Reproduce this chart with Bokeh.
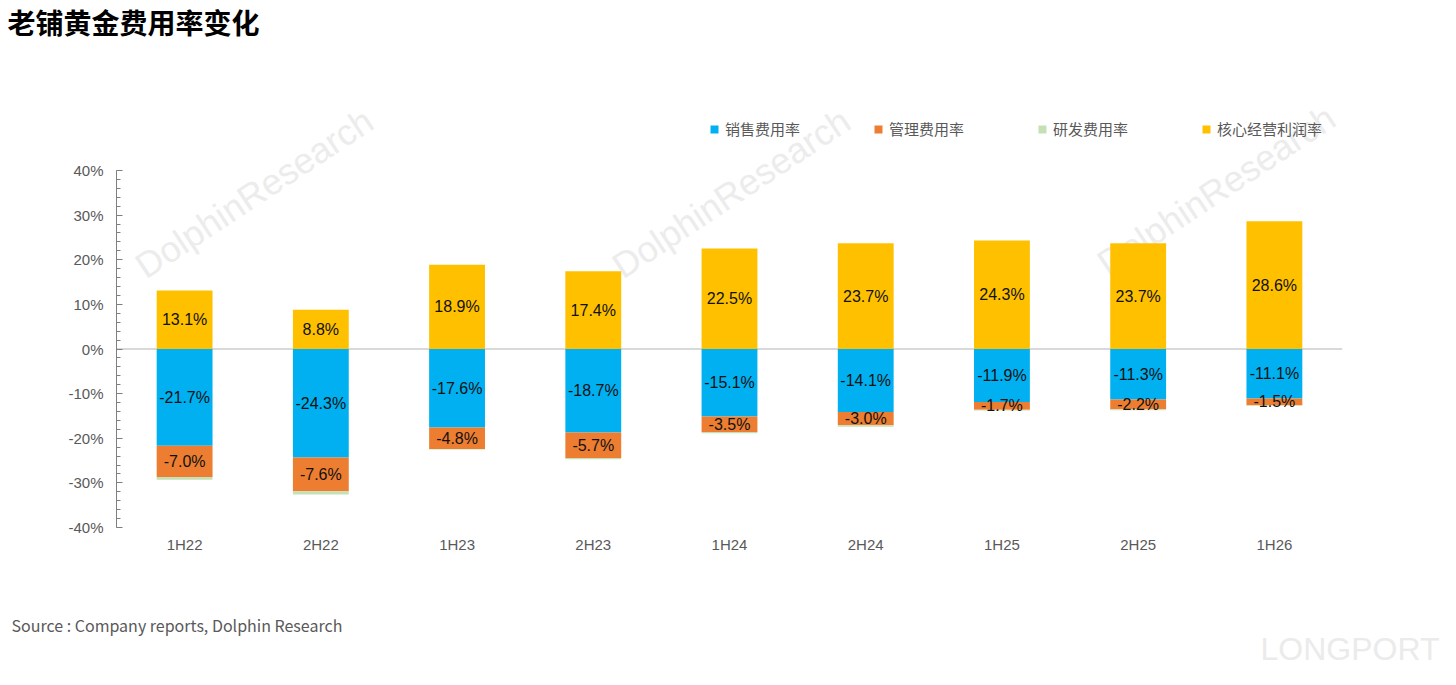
from bokeh.plotting import figure
from bokeh.layouts import column
from bokeh.models import (ColumnDataSource, FactorRange, Range1d, FixedTicker,
                          PrintfTickFormatter, Span, Label, Legend, LegendItem)
from bokeh.core.properties import value
from bokeh.embed import file_html
from bokeh.resources import INLINE

categories = ["1H22", "2H22", "1H23", "2H23", "1H24", "2H24", "1H25", "2H25", "1H26"]
sales_ratio = [-21.7, -24.3, -17.6, -18.7, -15.1, -14.1, -11.9, -11.3, -11.1]
admin_ratio = [-7.0, -7.6, -4.8, -5.7, -3.5, -3.0, -1.7, -2.2, -1.5]
rd_ratio = [-0.6, -0.7, -0.1, -0.3, -0.3, -0.3, -0.2, -0.2, -0.1]
core_margin = [13.1, 8.8, 18.9, 17.4, 22.5, 23.7, 24.3, 23.7, 28.6]
series_names = ["销售费用率", "管理费用率", "研发费用率", "核心经营利润率"]
y_ticks = [-40, -30, -20, -10, 0, 10, 20, 30, 40]
title_text = "老铺黄金费用率变化"
source_text = "Source : Company reports, Dolphin Research"
brand_text = "LONGPORT"

COL_SALES = "#00B0F0"
COL_ADMIN = "#ED7D31"
COL_RD = "#C5E0B4"
COL_CORE = "#FFC000"
GREY = "#595959"
FONT = "Noto Sans CJK SC"
LAT = "Liberation Sans"

sales_bot = list(sales_ratio)
admin_bot = [s + a for s, a in zip(sales_ratio, admin_ratio)]
rd_bot = [s + a + r for s, a, r in zip(sales_ratio, admin_ratio, rd_ratio)]

src = ColumnDataSource(dict(
    cat=categories,
    sales_top=[0.0] * len(categories), sales_bot=sales_bot,
    admin_top=sales_bot, admin_bot=admin_bot,
    rd_top=admin_bot, rd_bot=rd_bot,
    core_top=list(core_margin), core_bot=[0.0] * len(categories),
    sales_mid=[s / 2 for s in sales_ratio],
    admin_mid=[s + a / 2 for s, a in zip(sales_ratio, admin_ratio)],
    core_mid=[c / 2 for c in core_margin],
    sales_lbl=[f"{v:.1f}%" for v in sales_ratio],
    admin_lbl=[f"{v:.1f}%" for v in admin_ratio],
    core_lbl=[f"{v:.1f}%" for v in core_margin],
))

# layout (pixels inside the main figure)
W = 1440
H_MAIN, H_FOOT = 600, 69
TOP, LEFT, FRAME_W = 36, 116, 1226
RIGHT = W - LEFT - FRAME_W
AX_TOP, AX_BOT = 166, 523        # pixel rows of the 40% and -40% lines
FRAME_H = AX_BOT - TOP
BOTTOM = H_MAIN - AX_BOT
px_per_unit = (AX_BOT - AX_TOP) / 80.0
y_max = 40 + (AX_TOP - TOP) / px_per_unit

p = figure(frame_width=FRAME_W, frame_height=FRAME_H,
           x_range=FactorRange(factors=categories, range_padding=0),
           y_range=Range1d(-40, y_max), output_backend="svg", toolbar_location=None,
           min_border_left=LEFT, min_border_right=RIGHT, min_border_top=TOP, min_border_bottom=BOTTOM)
p.outline_line_color = None
p.xgrid.visible = False
p.ygrid.visible = False
p.background_fill_color = "white"
p.border_fill_color = "white"

p.title.text = title_text
p.title.align = "left"
p.title.offset = -109
p.title.standoff = -2
p.title.text_font = FONT
p.title.text_font_size = "28px"
p.title.text_font_style = "bold"
p.title.text_color = "#000000"

zero = Span(location=0, dimension="width", line_color="#d9d9d9", line_width=2, level="underlay")
p.add_layout(zero)

bw = 0.41
r_sales = p.vbar(x="cat", top="sales_top", bottom="sales_bot", width=bw, source=src,
                 fill_color=COL_SALES, line_color=None)
r_admin = p.vbar(x="cat", top="admin_top", bottom="admin_bot", width=bw, source=src,
                 fill_color=COL_ADMIN, line_color=None)
r_rd = p.vbar(x="cat", top="rd_top", bottom="rd_bot", width=bw, source=src,
              fill_color=COL_RD, line_color=None)
r_core = p.vbar(x="cat", top="core_top", bottom="core_bot", width=bw, source=src,
                fill_color=COL_CORE, line_color=None)

for ycol, tcol in [("sales_mid", "sales_lbl"), ("admin_mid", "admin_lbl"), ("core_mid", "core_lbl")]:
    p.text(x="cat", y=ycol, text=tcol, source=src, text_align="center", text_baseline="middle",
           text_font=value(LAT), text_font_size="16px", text_color="#111111")

# axes
yax = p.yaxis[0]
yax.bounds = (-40, 40)
yax.ticker = FixedTicker(ticks=y_ticks, minor_ticks=list(range(-40, 41, 2)))
yax.formatter = PrintfTickFormatter(format="%d%%")
yax.axis_line_color = "#7f7f7f"
yax.major_tick_line_color = "#7f7f7f"
yax.minor_tick_line_color = "#7f7f7f"
yax.major_tick_in = 6
yax.major_tick_out = 0
yax.minor_tick_in = 4
yax.minor_tick_out = 0
yax.major_label_standoff = 13
yax.major_label_text_font = LAT
yax.major_label_text_font_size = "15px"
yax.major_label_text_color = GREY

xax = p.xaxis[0]
xax.axis_line_color = None
xax.major_tick_line_color = None
xax.minor_tick_line_color = None
xax.major_tick_out = 0
xax.major_label_standoff = 8
xax.major_label_text_font = LAT
xax.major_label_text_font_size = "15px"
xax.major_label_text_color = GREY

# legend inside the (extended) frame
legend = Legend(items=[LegendItem(label=series_names[i], renderers=[r])
                       for i, r in enumerate([r_sales, r_admin, r_rd, r_core])],
                location=(593, 388), orientation="horizontal",
                glyph_width=10, glyph_height=10, label_standoff=6, spacing=73,
                padding=0, margin=0, background_fill_alpha=0, border_line_color=None,
                label_text_font=FONT, label_text_font_size="15px", label_text_color=GREY,
                label_height=20)
p.add_layout(legend)

# faint watermarks behind the bars
for wx, wy in [(34, 241), (511, 241), (996, 244)]:
    p.add_layout(Label(x=wx, y=wy, x_units="screen", y_units="screen", text="DolphinResearch",
                       angle=0.585, text_font=LAT, text_font_size="36px",
                       text_color="#ececec", level="underlay"))

# footer strip: source line and brand
f = figure(width=W, height=H_FOOT, x_range=Range1d(0, W), y_range=Range1d(0, H_FOOT),
           x_axis_location=None, y_axis_location=None, output_backend="svg",
           toolbar_location=None, min_border=0)
f.outline_line_color = None
f.xgrid.visible = False
f.ygrid.visible = False
f.border_fill_color = "white"
f.background_fill_color = "white"
f.add_layout(Label(x=11, y=H_FOOT - 20, x_units="screen", y_units="screen", text=source_text,
                   text_font=FONT, text_font_size="16px", text_color=GREY,
                   text_baseline="middle", text_align="left"))
f.add_layout(Label(x=W - 1, y=H_FOOT - 44, x_units="screen", y_units="screen", text=brand_text,
                   text_font=LAT, text_font_size="32px", text_color="#ebebeb",
                   text_baseline="middle", text_align="right"))

# keep the two plots from aligning their frames
for fig in (p, f):
    try:
        fig.frame_align = False
    except Exception:
        pass

layout = column(p, f, spacing=0)
open("out.html", "w").write(file_html(layout, INLINE))
